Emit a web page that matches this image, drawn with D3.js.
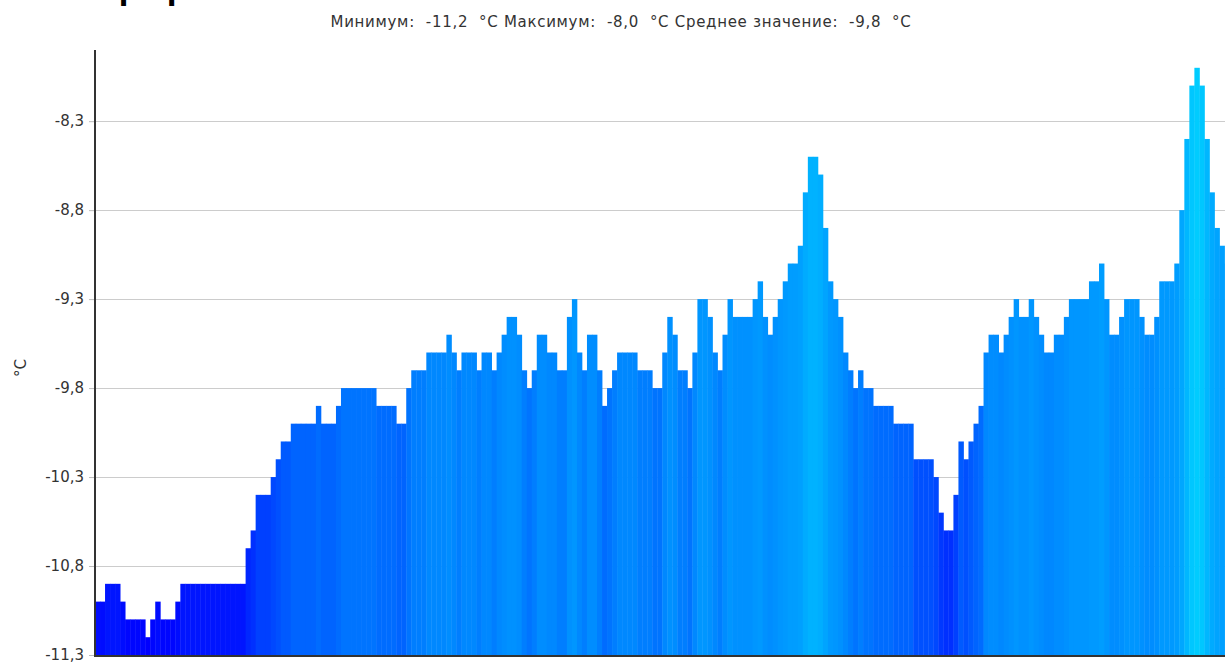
<!DOCTYPE html>
<html>
<head>
<meta charset="utf-8">
<script src="https://cdn.jsdelivr.net/npm/d3@7"></script>
<style>
  html, body { margin: 0; padding: 0; background: #fff; overflow: hidden; }
  svg { display: block; }
  text { font-family: "DejaVu Sans", Verdana, sans-serif; }
</style>
</head>
<body>
<svg id="chart" width="1225" height="662"></svg>
<script>
// Temperature readings, °C, one per interval (left to right)
const values = [
  -11.0, -11.0, -10.9, -10.9, -10.9, -11.0, -11.1, -11.1, -11.1, -11.1,
  -11.2, -11.1, -11.0, -11.1, -11.1, -11.1, -11.0,
  -10.9, -10.9, -10.9, -10.9, -10.9, -10.9, -10.9, -10.9, -10.9, -10.9, -10.9, -10.9, -10.9,
  -10.7, -10.6, -10.4, -10.4, -10.4, -10.3, -10.2, -10.1, -10.1,
  -10.0, -10.0, -10.0, -10.0, -10.0, -9.9, -10.0, -10.0, -10.0, -9.9,
  -9.8, -9.8, -9.8, -9.8, -9.8, -9.8, -9.8, -9.9, -9.9, -9.9, -9.9, -10.0, -10.0, -9.8,
  -9.7, -9.7, -9.7, -9.6, -9.6, -9.6, -9.6, -9.5, -9.6, -9.7, -9.6, -9.6, -9.6, -9.7,
  -9.6, -9.6, -9.7, -9.6, -9.5, -9.4, -9.4, -9.5, -9.7, -9.8, -9.7, -9.5, -9.5,
  -9.6, -9.6, -9.7, -9.7, -9.4, -9.3, -9.6, -9.7, -9.5, -9.5, -9.7, -9.9, -9.8, -9.7,
  -9.6, -9.6, -9.6, -9.6, -9.7, -9.7, -9.7, -9.8, -9.8, -9.6, -9.4, -9.5, -9.7, -9.7,
  -9.8, -9.6, -9.3, -9.3, -9.4, -9.6, -9.7, -9.5, -9.3, -9.4, -9.4, -9.4, -9.4,
  -9.3, -9.2, -9.4, -9.5, -9.4, -9.3,
  -9.2, -9.1, -9.1, -9.0, -8.7, -8.5, -8.5, -8.6, -8.9, -9.2, -9.3, -9.4, -9.6,
  -9.7, -9.8, -9.7, -9.8, -9.8, -9.9, -9.9, -9.9, -9.9, -10.0, -10.0, -10.0, -10.0,
  -10.2, -10.2, -10.2, -10.2, -10.3, -10.5, -10.6, -10.6, -10.4, -10.1, -10.2, -10.1,
  -10.0, -9.9, -9.6, -9.5, -9.5, -9.6, -9.5, -9.4, -9.3, -9.4, -9.4, -9.3, -9.4,
  -9.5, -9.6, -9.6, -9.5, -9.5, -9.4, -9.3, -9.3, -9.3, -9.3, -9.2, -9.2, -9.1,
  -9.3, -9.5, -9.5, -9.4, -9.3, -9.3, -9.3, -9.4, -9.5, -9.5, -9.4, -9.2, -9.2, -9.2,
  -9.1, -8.8, -8.4, -8.1, -8.0, -8.1, -8.4, -8.7, -8.9, -9.0, -9.1
];

// Y axis tick values and labels
const yTicks = [-11.3, -10.8, -10.3, -9.8, -9.3, -8.8, -8.3];
const yTickLabels = ["-11,3", "-10,8", "-10,3", "-9,8", "-9,3", "-8,8", "-8,3"];

// Colour stops (temperature → fill)
const colorStops = [-11.2, -11.0, -10.6, -10.2, -10.0, -9.8, -9.6, -9.3, -9.0, -8.5, -8.0];
const colorRange = ["#0000ff", "#000cff", "#0030ff", "#0050ff", "#0064ff", "#0074ff",
                    "#0088ff", "#0096ff", "#00a0ff", "#00b2ff", "#00ccff"];

const titleText = "График";
const subtitleText = "Минимум:  -11,2  °C Максимум:  -8,0  °C Среднее значение:  -9,8  °C";
const unitLabel = "°C";

const svg = d3.select("#chart");
const plot = { left: 95, top: 50, bottom: 655, step: 5.02 };

const x = d3.scaleBand()
  .domain(d3.range(values.length))
  .range([plot.left, plot.left + values.length * plot.step])
  .padding(0);

const y = d3.scaleLinear()
  .domain([-11.3, -7.9])
  .range([plot.bottom, plot.top]);

const color = d3.scaleLinear().domain(colorStops).range(colorRange).clamp(true);

// Grid lines
svg.append("g")
  .selectAll("line")
  .data(yTicks)
  .join("line")
  .attr("x1", plot.left)
  .attr("x2", 1225)
  .attr("y1", d => Math.round(y(d)) + 0.5)
  .attr("y2", d => Math.round(y(d)) + 0.5)
  .attr("stroke", "#cccccc")
  .attr("stroke-width", 1);

// Bars
svg.append("g")
  .selectAll("rect")
  .data(values)
  .join("rect")
  .attr("x", (d, i) => x(i))
  .attr("width", x.bandwidth() + 0.4)
  .attr("y", d => y(d))
  .attr("height", d => plot.bottom - y(d))
  .attr("fill", d => color(d));

// Y axis
const yAxis = d3.axisLeft(y)
  .tickValues(yTicks)
  .tickFormat((d, i) => yTickLabels[i])
  .tickSize(6)
  .tickPadding(5);

const gy = svg.append("g")
  .attr("transform", `translate(${plot.left},0)`)
  .call(yAxis);
gy.select(".domain").remove();
gy.selectAll(".tick line").attr("stroke", "#bbbbbb");
gy.selectAll(".tick text")
  .attr("fill", "#333333")
  .style("font-size", "15px")
  .style("font-family", "'DejaVu Sans', Verdana, sans-serif");

// Axis lines
svg.append("line")
  .attr("x1", plot.left).attr("x2", plot.left)
  .attr("y1", plot.top).attr("y2", plot.bottom + 1)
  .attr("stroke", "#333333").attr("stroke-width", 2);
svg.append("line")
  .attr("x1", plot.left - 1).attr("x2", 1225)
  .attr("y1", plot.bottom + 1).attr("y2", plot.bottom + 1)
  .attr("stroke", "#333333").attr("stroke-width", 2);

// Unit label
svg.append("text")
  .attr("transform", "translate(26,368) rotate(-90)")
  .attr("text-anchor", "middle")
  .attr("fill", "#333333")
  .style("font-size", "15px")
  .text(unitLabel);

// Title (sits mostly above the visible area)
svg.append("text")
  .attr("x", 101)
  .attr("y", 0)
  .attr("fill", "#000000")
  .style("font-size", "28px")
  .style("font-weight", "bold")
  .text(titleText);

// Summary line
svg.append("text")
  .attr("x", 621)
  .attr("y", 27)
  .attr("text-anchor", "middle")
  .attr("fill", "#333333")
  .style("font-size", "15px")
  .style("letter-spacing", "0.7px")
  .style("white-space", "pre")
  .text(subtitleText);
</script>
</body>
</html>
